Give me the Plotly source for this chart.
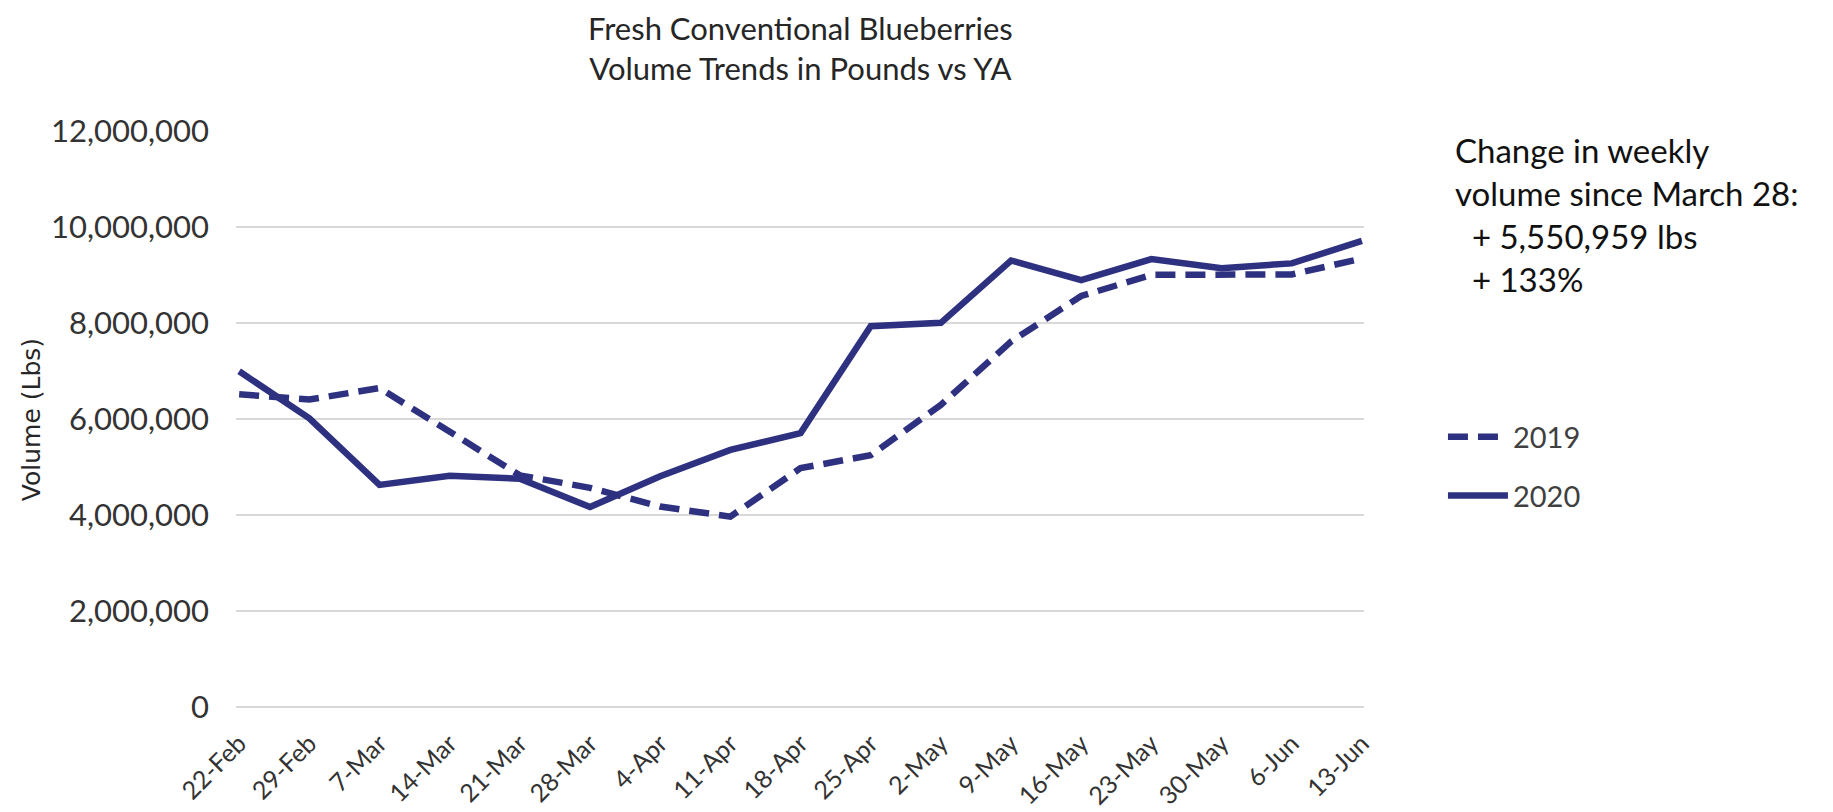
import plotly.graph_objects as go

weeks = ["22-Feb", "29-Feb", "7-Mar", "14-Mar", "21-Mar", "28-Mar", "4-Apr", "11-Apr",
         "18-Apr", "25-Apr", "2-May", "9-May", "16-May", "23-May", "30-May", "6-Jun", "13-Jun"]
vol_2019 = [6520000, 6410000, 6650000, 5720000, 4830000, 4570000, 4180000, 3970000,
            4980000, 5250000, 6300000, 7620000, 8570000, 9010000, 9000000, 9020000, 9350000]
vol_2020 = [7000000, 6020000, 4630000, 4820000, 4760000, 4170000, 4810000, 5360000,
            5710000, 7940000, 8010000, 9310000, 8900000, 9340000, 9150000, 9250000, 9720000]
y_ticks = [0, 2000000, 4000000, 6000000, 8000000, 10000000, 12000000]

NAVY = "#2E3180"
FONT = "Lato"

fig = go.Figure()
fig.add_trace(go.Scatter(x=weeks, y=vol_2019, mode="lines", name="2019", legendgroup="a",
                         line=dict(color=NAVY, width=6.5, dash="20px,10px")))
fig.add_trace(go.Scatter(x=weeks, y=vol_2020, mode="lines", name="2020", legendgroup="b",
                         line=dict(color=NAVY, width=6.5)))

fig.update_layout(
    template="none",
    width=1833, height=812,
    margin=dict(l=236, r=469, t=131, b=105, autoexpand=False),
    paper_bgcolor="white", plot_bgcolor="white",
    font=dict(family=FONT, color="#333333"),
    showlegend=True,
    legend=dict(x=1.07, xanchor="left", y=0.513, yanchor="top", tracegroupgap=18,
                font=dict(family=FONT, size=29, color="#404040"), itemwidth=60,
                bgcolor="rgba(0,0,0,0)", borderwidth=0),
)
fig.update_xaxes(type="category", range=[-0.045, 16.03], showgrid=False, showline=False,
                 automargin=False, ticks="", tickangle=-45, ticklabelstandoff=16,
                 tickfont=dict(family=FONT, size=25, color="#333333"), zeroline=False)
fig.update_yaxes(range=[0, 12010000], tickvals=y_ticks, tickformat=",d", automargin=False,
                 showgrid=True, gridcolor="#d9d9d9", gridwidth=2,
                 zeroline=True, zerolinecolor="#d9d9d9", zerolinewidth=2,
                 showline=False, ticks="", ticklabelstandoff=26,
                 tickfont=dict(family=FONT, size=31, color="#333333"))

fig.add_annotation(text="Fresh Conventional Blueberries<br>Volume Trends in Pounds vs YA",
                   xref="paper", yref="paper", x=0.5, y=1.215, xanchor="center", yanchor="top",
                   align="center", showarrow=False,
                   font=dict(family=FONT, size=31, color="#262626"))
fig.add_annotation(text="Volume (Lbs)", textangle=-90, xref="paper", yref="paper",
                   x=-0.1817, y=0.498, xanchor="center", yanchor="middle", showarrow=False,
                   font=dict(family="DejaVu Sans", size=25, color="#262626"))
fig.add_annotation(text="Change in weekly<br>volume since March 28:<br>  + 5,550,959 lbs<br>  + 133%",
                   xref="paper", yref="paper", x=1.079, y=1.005, xanchor="left", yanchor="top",
                   align="left", showarrow=False,
                   font=dict(family=FONT, size=33, color="#111111"))

fig.write_html("out.html", config={"displayModeBar": False},
               post_script="document.body.style.margin='0';document.body.style.overflow='hidden';")
